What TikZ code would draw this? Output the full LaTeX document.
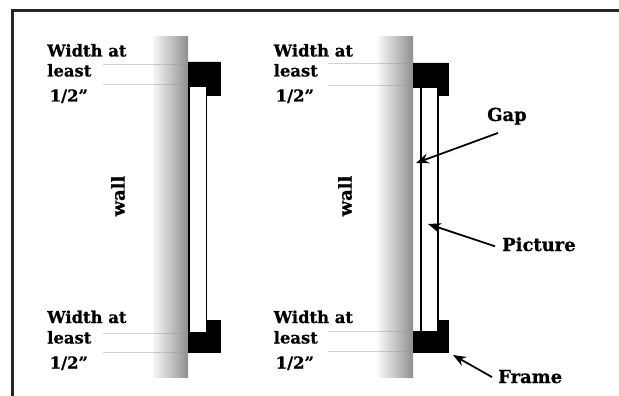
\documentclass[tikz,border=0pt]{standalone}
\usepackage{fontspec}
\setmainfont[BoldFeatures={FakeBold=0.7}]{DejaVu Serif}
\usetikzlibrary{arrows.meta}
\begin{document}
\begin{tikzpicture}[x=0.03cm, y=-0.03cm,
	etiqueta/.style={anchor=base west, inner sep=0pt, font=\bfseries\fontsize{14}{14}\selectfont},
	rotulo/.style={etiqueta, font=\bfseries\fontsize{15.3}{15}\selectfont},
	muro/.style={left color=black!3, middle color=black!14, right color=black!44},
	medida/.style={draw=black!40, opacity=0.45, line width=0.6pt},
	marco/.style={fill=black, draw=black, line width=0.3pt},
	cuadro/.style={draw=black, line width=1.6pt},
	flecha/.style={-{Stealth[length=11pt, width=8.5pt]}, line width=1.5pt}]
	\useasboundingbox (0,0) rectangle (619,396);

	% Borde
		\draw [black!85, line width=1.8pt] (12.5,396) -- (12.5,10.5) -- (619,10.5);

	% Muros
		\shade [muro] (153,37) rectangle (188,377);
		\shade [muro] (378,37) rectangle (413,377);
		\node [rotulo, anchor=center, rotate=90] (muroA) at (118,196) {wall};
		\node [rotulo, anchor=center, rotate=90] (muroB) at (345,196) {wall};

	% Cuadro izquierdo
		\draw [cuadro] (188.8,86) -- (188.8,332);
		\draw [cuadro] (206.5,86) -- (206.5,332);
		\draw [marco] (188,62) -- (220,62) -- (220,95) -- (207,95) -- (207,86) -- (188,86) -- cycle;
		\draw [marco] (188,352) -- (220,352) -- (220,320) -- (207,320) -- (207,332) -- (188,332) -- cycle;

	% Cuadro derecho
		\draw [cuadro] (421,87) -- (421,331);
		\draw [cuadro] (438,87) -- (438,331);
		\draw [marco] (413,63) -- (448,63) -- (448,95) -- (438,95) -- (438,87) -- (413,87) -- cycle;
		\draw [marco] (413,352) -- (448,352) -- (448,320.5) -- (438,320.5) -- (438,331) -- (413,331) -- cycle;

	% Lineas de medida
		\draw [medida] (103,64) -- (188,64);
		\draw [medida] (103,84.5) -- (188,84.5);
		\draw [medida] (103,333) -- (188,333);
		\draw [medida] (103,352) -- (188,352);
		\draw [medida] (328,63.5) -- (413,63.5);
		\draw [medida] (328,85) -- (413,85);
		\draw [medida] (328,331) -- (413,331);
		\draw [medida] (328,351) -- (413,351);

	% Textos izquierda
		\node [etiqueta] (anchoA) at (47,56.5) {Width at};
		\node [etiqueta] (menosA) at (47,76.5) {least};
		\node [etiqueta] (medioA) at (49.5,101.5) {1/2”};
		\node [etiqueta] (anchoB) at (47,323) {Width at};
		\node [etiqueta] (menosB) at (47,343.5) {least};
		\node [etiqueta] (medioB) at (49.5,368.5) {1/2”};

	% Textos derecha
		\node [etiqueta] (anchoC) at (273.5,56.5) {Width at};
		\node [etiqueta] (menosC) at (273.5,76.5) {least};
		\node [etiqueta] (medioC) at (275.5,101.5) {1/2”};
		\node [etiqueta] (anchoD) at (273.5,323) {Width at};
		\node [etiqueta] (menosD) at (273.5,343.5) {least};
		\node [etiqueta] (medioD) at (275.5,368.5) {1/2”};

	% Flechas
		\node [rotulo] (gap) at (487,121) {Gap};
		\node [rotulo] (picture) at (502,251) {Picture};
		\node [rotulo] (frame) at (498,383) {Frame};
		\coordinate (puntaGap) at (416,163);
		\coordinate (puntaPicture) at (428,224);
		\coordinate (puntaFrame) at (453,355);
		\draw [flecha] (gap.south west) ++(11,8) -- (puntaGap);
		\draw [flecha] (picture.west) ++(-7,2) -- (puntaPicture);
		\draw [flecha] (frame.west) ++(-6,0.5) -- (puntaFrame);
\end{tikzpicture}
\end{document}
